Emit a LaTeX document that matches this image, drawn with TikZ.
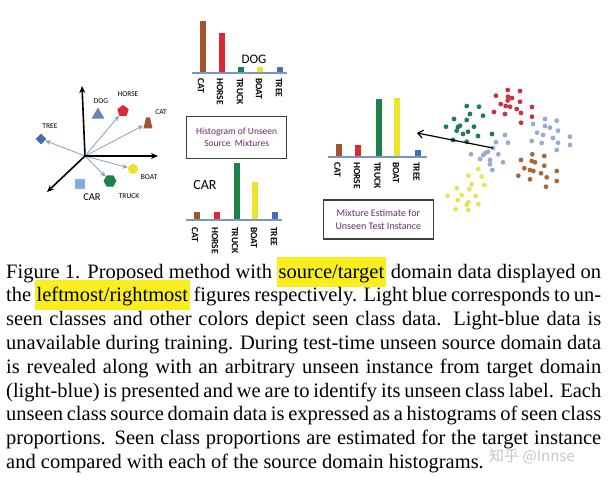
\documentclass[tikz,border=0pt]{standalone}
\usepackage{fontspec}
\setmainfont{Liberation Serif}
\newfontfamily\calfont{Carlito}
\newfontfamily\cjkfont{Noto Sans CJK SC}
\usetikzlibrary{shapes.geometric,arrows.meta}
\definecolor{cbrown}{RGB}{160,85,45}
\definecolor{cred}{RGB}{220,40,50}
\definecolor{cgreen}{RGB}{30,130,70}
\definecolor{cyellow}{RGB}{235,228,40}
\definecolor{cblue}{RGB}{70,110,180}
\definecolor{clblue}{RGB}{140,165,210}
\definecolor{ccar}{RGB}{130,170,225}
\definecolor{cbase}{RGB}{120,150,195}
\definecolor{cpurple}{RGB}{110,40,110}
\definecolor{hly}{RGB}{250,238,30}
\definecolor{carrow}{RGB}{140,160,195}
\definecolor{dred}{RGB}{200,50,65}
\definecolor{dgreen}{RGB}{30,125,85}
\definecolor{dbrown}{RGB}{165,105,65}
\definecolor{dyellow}{RGB}{228,228,90}
\definecolor{dblue}{RGB}{150,170,210}
\newcommand\hl[1]{{\setlength{\fboxsep}{1.5pt}\smash{\colorbox{hly}{\rule[-7pt]{0pt}{27pt}#1}}}}
\newcommand\histbar[4]{\fill[#1] ({#2-3},#3) rectangle ({#2+3},#4);}
\tikzset{
  axisline/.style={line width=1.6pt,-{Stealth[length=7pt,width=6pt]}},
  vec/.style={carrow,line width=0.8pt,-{Stealth[length=5pt,width=5pt]},shorten >=0.5pt},
  lab/.style={font=\calfont\fontsize{7.5}{9}\selectfont,inner sep=0},
  hlab/.style={font=\calfont\bfseries\fontsize{9.5}{10}\selectfont,rotate=-90,anchor=west,inner sep=0},
  shp/.style={inner sep=0,draw=none},
  cbox/.style={draw=black!75,line width=1.3pt,text=cpurple,align=center,inner sep=0,
     font=\calfont\fontsize{9.5}{11.5}\selectfont},
  baseln/.style={cbase,line width=2pt},
  pointer/.style={line width=1.2pt,-{Straight Barb[length=5pt,width=8pt]}}
}
\begin{document}
\begin{tikzpicture}[x=1pt,y=-1pt]
\useasboundingbox (0,0) rectangle (612,481);
\fill[white] (0,0) rectangle (612,481);

% ---------- left: feature space ----------
\coordinate (o) at (85,156);
\coordinate (axup) at (82,86);
\coordinate (axright) at (158,156);
\coordinate (axdown) at (47,192);
\node[shp,diamond,fill=cblue,minimum size=11pt] (tree) at (41,139) {};
\node[shp,regular polygon,regular polygon sides=3,fill=cblue!85,minimum size=15pt] (dog) at (98,115) {};
\node[shp,regular polygon,regular polygon sides=5,fill=cred,minimum size=12pt] (horse) at (123,111) {};
\node[shp,rectangle,minimum width=9pt,minimum height=11pt] (cat) at (148,123) {};
\fill[cbrown] ([xshift=-4.5pt,yshift=-5.5pt]cat.center) -- ([xshift=4.5pt,yshift=-5.5pt]cat.center)
  -- ([xshift=2pt,yshift=5.5pt]cat.center) -- ([xshift=-2pt,yshift=5.5pt]cat.center) -- cycle;
\node[shp,circle,fill=cyellow,minimum size=10pt] (boat) at (133,169) {};
\node[shp,regular polygon,regular polygon sides=6,fill=cgreen,minimum size=13pt] (truck) at (110,181) {};
\node[shp,rectangle,fill=ccar,minimum size=10pt] (car) at (80,184) {};
\draw[vec] (o) -- (tree);
\draw[vec] (o) -- (horse);
\draw[vec] (o) -- (cat);
\draw[vec] (o) -- (boat);
\draw[vec] (o) -- (truck);
\draw[axisline] (o) -- (axup);
\draw[axisline] (o) -- (axright);
\draw[axisline] (o) -- (axdown);
\node[lab] (ldog) at (101,101) {DOG};
\node[lab] (lhorse) at (128,94) {HORSE};
\node[lab] (lcat) at (161,112) {CAT};
\node[lab] (ltree) at (50,126) {TREE};
\node[lab] (lboat) at (149,177) {BOAT};
\node[lab] (ltruck) at (129,196) {TRUCK};
\node[lab,font=\calfont\fontsize{10.5}{12}\selectfont] (lcar) at (92,197) {CAR};

% ---------- DOG histogram ----------
\draw[baseln] (192,72.7) -- (287,72.7);
\histbar{cbrown}{202.7}{72}{20.7}
\histbar{cred}{221.7}{72}{33.3}
\histbar{cgreen}{241}{72}{66.7}
\histbar{cyellow}{260}{72}{66.7}
\histbar{cblue}{280}{72}{66.7}
\node[hlab] (d1) at (201,78) {CAT};
\node[hlab] (d2) at (220,78) {HORSE};
\node[hlab] (d3) at (240,78) {TRUCK};
\node[hlab] (d4) at (259,78) {BOAT};
\node[hlab] (d5) at (279,78) {TREE};
\node[font=\calfont\fontsize{13}{14}\selectfont,inner sep=0] (dogt) at (254,59) {DOG};
\node[cbox,minimum width=100pt,minimum height=41.5pt] (box1) at (236.7,137.5) {Histogram of Unseen\\Source~ Mixtures};

% ---------- CAR histogram ----------
\draw[baseln] (186,220) -- (282,220);
\histbar{cbrown}{196.7}{219}{212.3}
\histbar{cred}{216.7}{219}{211.7}
\histbar{cgreen}{236.7}{219}{162.7}
\histbar{cyellow}{255}{219}{181.7}
\histbar{cblue}{275}{219}{212.3}
\node[hlab] (c1) at (195,227) {CAT};
\node[hlab] (c2) at (215,227) {HORSE};
\node[hlab] (c3) at (235,227) {TRUCK};
\node[hlab] (c4) at (254,227) {BOAT};
\node[hlab] (c5) at (274,227) {TREE};
\node[font=\calfont\fontsize{14}{15}\selectfont,inner sep=0] (cart) at (205,185) {CAR};

% ---------- estimate histogram ----------
\draw[baseln] (328,156.7) -- (427,156.7);
\histbar{cbrown}{339}{156}{144.3}
\histbar{cred}{358.3}{156}{145}
\histbar{cgreen}{379}{156}{99}
\histbar{cyellow}{397.3}{156}{98.3}
\histbar{cblue}{417.7}{156}{150}
\node[hlab] (e1) at (337.5,162) {CAT};
\node[hlab] (e2) at (357,162) {HORSE};
\node[hlab] (e3) at (377.5,162) {TRUCK};
\node[hlab] (e4) at (396,162) {BOAT};
\node[hlab] (e5) at (416.5,162) {TREE};
\node[cbox,minimum width=110pt,minimum height=39pt,font=\calfont\fontsize{10}{13.5}\selectfont] (box2) at (378.3,219.5) {Mixture Estimate for\\Unseen Test Instance};

% ---------- scatter ----------
\foreach \p in {(507.7,90),(520,91),(496,95.7),(508,96.7),(512,98),(520,101.7),(500.7,104),(505.7,106),(510,106.7),(516.7,109),(532,107),(494,112),(505,114),(521,113),(532,116.7),(521,122.7),(507.7,100.5)}
  \fill[dred] \p circle[radius=2.4pt];
\foreach \p in {(466.7,106),(479,106.7),(470,114),(483,115.7),(454,119),(466.7,120),(446,126.7),(460,125.7),(474,126.7),(456.7,130.7),(468,131.7),(463,134),(478,136),(492,134),(466.7,141.7),(453,140),(458,127)}
  \fill[dgreen] \p circle[radius=2.4pt];
\foreach \p in {(533,124),(545,119),(556.7,120.7),(545,126),(550,127.7),(558,130.7),(537,132.7),(543,135),(553,138),(570,136.7),(531.7,141),(541.7,143),(558,142.7),(570,145),(556.7,150),(505,135),(508,142.7),(496,142.3),(471,154.3),(485,153.3),(498.3,154.3),(480,159),(490,160),(503,162.3),(490,164.3),(492.3,170),(483.3,155),(488,151.7)}
  \fill[dblue] \p circle[radius=2.4pt];
\foreach \p in {(521,160),(532.3,154.3),(544.3,156),(531.7,161),(535,162.3),(524.3,168.3),(530,170),(533.3,171),(544.3,165.7),(518.3,175.7),(541,173.3),(546.7,177.3),(556.7,171),(530,179.3),(556.7,181),(546,186.7)}
  \fill[dbrown] \p circle[radius=2.4pt];
\foreach \p in {(478.3,169),(468.3,175.7),(481.7,176.7),(471.7,184.3),(484.3,185),(456.7,188.3),(469.3,189.3),(447.7,195.7),(461.7,195),(475.7,196),(457.7,200),(468.3,202.3),(478.3,204.3),(466.7,205),(455.7,209.3),(468.3,210)}
  \fill[dyellow] \p circle[radius=2.4pt];
\node[shp,circle,fill=dblue,minimum size=4.8pt] (testpt) at (493,148) {};
\coordinate (tip) at (417,133);
\draw[pointer] (testpt.center) -- (tip);

% ---------- caption ----------
\node[anchor=base west,text width=595pt,align=justify,inner sep=0,
  font=\fontsize{20.5}{23.8}\selectfont] (caption) at (6,278)
 {Figure 1. Proposed method with \hl{source/target} domain data displayed on\linebreak
 the \hl{leftmost/rightmost} figures respectively. Light blue corresponds to un-\linebreak
 seen classes and other colors depict seen class data. Light-blue data is\linebreak
 unavailable during training. During test-time unseen source domain data\linebreak
 is revealed along with an arbitrary unseen instance from target domain\linebreak
 (light-blue) is presented and we are to identify its unseen class label. Each\linebreak
 unseen class source domain data is expressed as a histograms of seen class\linebreak
 proportions. Seen class proportions are estimated for the target instance\linebreak
 and compared with each of the source domain histograms.};
\node[anchor=base west,inner sep=0,text=black!22,font=\cjkfont\fontsize{15}{15}\selectfont] (wm) at (489,461) {知乎 @Innse};
\end{tikzpicture}
\end{document}
